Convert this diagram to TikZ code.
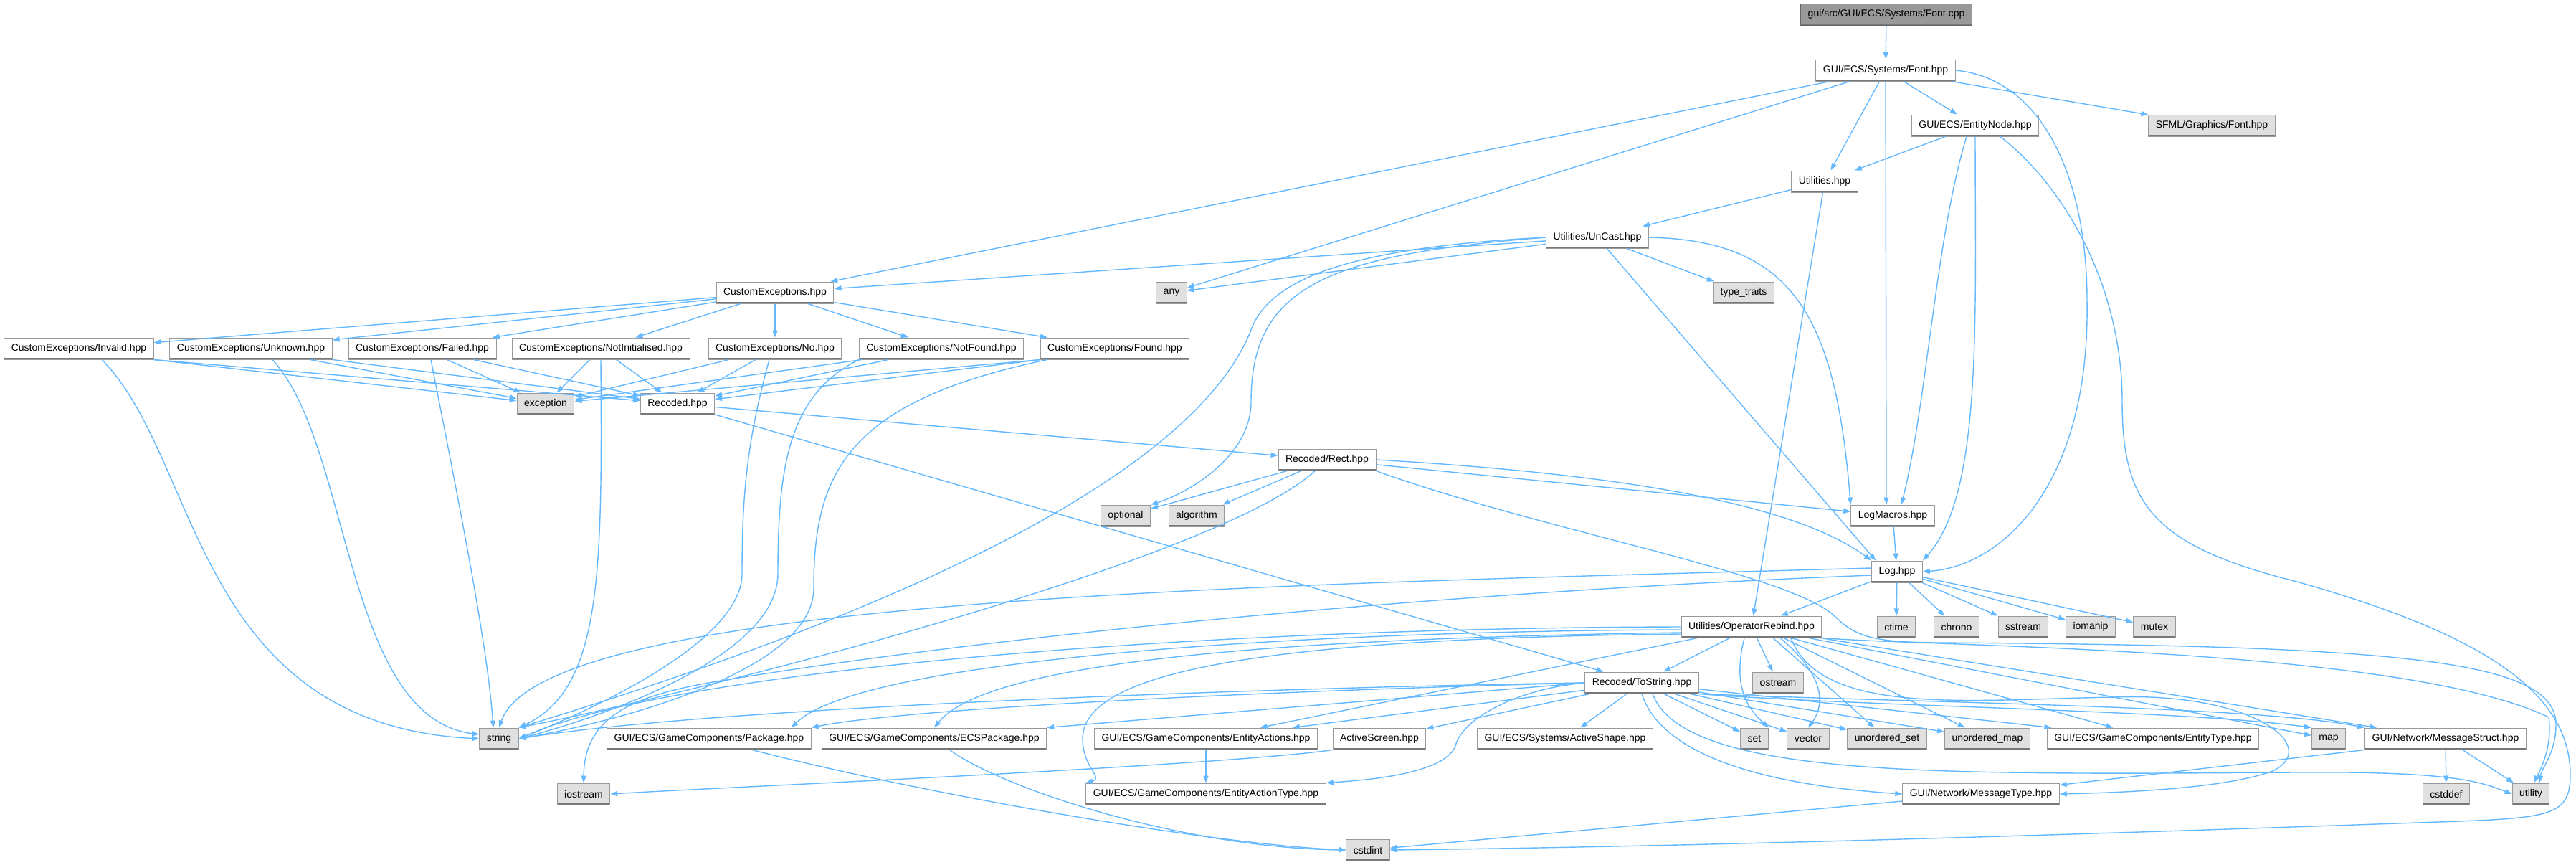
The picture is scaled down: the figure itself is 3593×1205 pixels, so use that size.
\documentclass[tikz,border=0pt]{standalone}
\usepackage{fontspec}
\setmainfont{Liberation Sans}
\usetikzlibrary{arrows.meta,calc}
\definecolor{edgeblue}{RGB}{99,184,255}
\definecolor{sysfill}{RGB}{224,224,224}
\definecolor{boxgrey}{RGB}{153,153,153}
\definecolor{boxdark}{RGB}{120,120,120}
\definecolor{rootfill}{RGB}{153,153,153}
\definecolor{rootline}{RGB}{102,102,102}

\begin{document}
\begin{tikzpicture}[x=0.5pt, y=-0.5pt,
		file/.style={draw=boxgrey, fill=white, line width=0.5pt, minimum height=15pt, inner xsep=5pt, inner ysep=0pt, font=\fontsize{7}{8.4}\selectfont,
			path picture={\draw[boxgrey, line width=1.1pt] (path picture bounding box.north west) -- (path picture bounding box.north east);
				\draw[boxdark, line width=1.6pt] (path picture bounding box.south west) -- (path picture bounding box.south east);}},
		sys/.style={file, fill=sysfill},
		root/.style={file, fill=rootfill, draw=rootline},
		dep/.style={draw=edgeblue, line width=0.7pt, -{Triangle[length=5pt,width=3.6pt]}}]
				\useasboundingbox (0,0) rectangle (3593,1205);
				
				\node[root] (fcpp) at (2631,20) {gui/src/GUI/ECS/Systems/Font.cpp};
				\node[file] (fhpp) at (2630,98) {GUI/ECS/Systems/Font.hpp};
				\node[file] (enode) at (2755,175) {GUI/ECS/EntityNode.hpp};
				\node[sys] (sfml) at (3085,175) {SFML/Graphics/Font.hpp};
				\node[file] (util) at (2545,253) {Utilities.hpp};
				\node[file] (uncast) at (2228,331) {Utilities/UnCast.hpp};
				\node[file] (cex) at (1081,408) {CustomExceptions.hpp};
				\node[sys] (any) at (1634,408) {any};
				\node[sys] (ttraits) at (2432,408) {type\_traits};
				
				\node[file] (invalid) at (110,486) {CustomExceptions/Invalid.hpp};
				\node[file] (unknown) at (350,486) {CustomExceptions/Unknown.hpp};
				\node[file] (failed) at (589,486) {CustomExceptions/Failed.hpp};
				\node[file] (notinit) at (838,486) {CustomExceptions/NotInitialised.hpp};
				\node[file] (no) at (1081,486) {CustomExceptions/No.hpp};
				\node[file] (notfound) at (1313,486) {CustomExceptions/NotFound.hpp};
				\node[file] (found) at (1555,486) {CustomExceptions/Found.hpp};
				\node[sys] (exception) at (761,563) {exception};
				\node[file] (recoded) at (945,563) {Recoded.hpp};
				\node[file] (rect) at (1851,641) {Recoded/Rect.hpp};
				\node[sys] (optional) at (1570,719) {optional};
				\node[sys] (algorithm) at (1669,719) {algorithm};
				\node[file] (logmacros) at (2640,719) {LogMacros.hpp};
				\node[file] (log) at (2646,797) {Log.hpp};
				
				\node[file] (oprebind) at (2443,874) {Utilities/OperatorRebind.hpp};
				\node[sys] (ctime) at (2645,874) {ctime};
				\node[sys] (chrono) at (2729,874) {chrono};
				\node[sys] (sstream) at (2822,874) {sstream};
				\node[sys] (iomanip) at (2916,874) {iomanip};
				\node[sys] (mutex) at (3005,874) {mutex};
				\node[file] (tostring) at (2290,952) {Recoded/ToString.hpp};
				\node[sys] (ostream) at (2480,952) {ostream};
				
				\node[sys] (string) at (696,1030) {string};
				\node[file] (package) at (989,1030) {GUI/ECS/GameComponents/Package.hpp};
				\node[file] (ecspackage) at (1303,1030) {GUI/ECS/GameComponents/ECSPackage.hpp};
				\node[file] (eactions) at (1682,1030) {GUI/ECS/GameComponents/EntityActions.hpp};
				\node[file] (ascreen) at (1924,1030) {ActiveScreen.hpp};
				\node[file] (ashape) at (2183,1030) {GUI/ECS/Systems/ActiveShape.hpp};
				\node[sys] (set) at (2447,1030) {set};
				\node[sys] (vector) at (2522,1030) {vector};
				\node[sys] (uset) at (2632,1030) {unordered\_set};
				\node[sys] (umap) at (2772,1030) {unordered\_map};
				\node[file] (etype) at (3003,1030) {GUI/ECS/GameComponents/EntityType.hpp};
				\node[sys] (map) at (3248,1030) {map};
				\node[file] (mstruct) at (3411,1030) {GUI/Network/MessageStruct.hpp};
				\node[sys] (iostream) at (814,1107) {iostream};
				\node[file] (eatype) at (1682,1107) {GUI/ECS/GameComponents/EntityActionType.hpp};
				\node[file] (mtype) at (2763,1107) {GUI/Network/MessageType.hpp};
				\node[sys] (cstddef) at (3412,1107) {cstddef};
				\node[sys] (utility) at (3530,1107) {utility};
				\node[sys] (cstdint) at (1908,1185) {cstdint};
				
				\draw[dep] (fcpp) -- (fhpp);
				\draw[dep] (fhpp) -- (cex);
				\draw[dep] (fhpp) -- (any);
				\draw[dep] (fhpp) -- (util);
				\draw[dep] (fhpp) -- ($(logmacros.north)+(-9,0)$);
				\draw[dep] (fhpp) -- (enode);
				\draw[dep] (fhpp) -- (sfml);
				\draw[dep] (fhpp.east) .. controls (2850,110) and (2911,250) .. (2911,420) .. controls (2915,680) and (2790,790) .. (log.east);
				
				\draw[dep] (enode) -- (util);
				\draw[dep] ($(enode.south)+(-12,0)$) .. controls (2700,330) and (2688,560) .. ($(logmacros.north)+(12,0)$);
				\draw[dep] (enode.south) .. controls (2755,450) and (2765,690) .. (log.north east);
				\draw[dep] ($(enode.south)+(35,0)$) .. controls (2880,260) and (2960,400) .. (2960,560) .. controls (2960,700) and (3000,760) .. (3200,810) .. controls (3450,880) and (3585,960) .. (3585,1080) .. controls (3585,1135) and (3560,1140) .. (3430,1145) .. controls (3000,1160) and (2400,1180) .. (cstdint.east);
				
				\draw[dep] (util) -- (uncast);
				\draw[dep] (util) -- (oprebind);
				
				\draw[dep] (uncast) -- (cex);
				\draw[dep] (uncast) -- (any);
				\draw[dep] (uncast) -- (ttraits);
				\draw[dep] (uncast) -- ($(log.north west)+(6,0)$);
				\draw[dep] (uncast.east) .. controls (2500,335) and (2560,440) .. (logmacros.north west);
				\draw[dep] (uncast.west) .. controls (1880,345) and (1770,390) .. (1745,460) .. controls (1650,700) and (1100,900) .. (string.north east);
				\draw[dep] (uncast.west) .. controls (1850,355) and (1745,400) .. (1745,560) .. controls (1745,640) and (1650,690) .. (optional.north east);
				
				\draw[dep] (cex) -- (invalid);
				\draw[dep] (cex) -- (unknown);
				\draw[dep] (cex) -- (failed);
				\draw[dep] (cex) -- (notinit);
				\draw[dep] (cex) -- (no);
				\draw[dep] (cex) -- (notfound);
				\draw[dep] (cex) -- (found);
				
				\draw[dep] (invalid.south east) -- (exception);
				\draw[dep] (invalid.south east) -- (recoded);
				\draw[dep] ($(invalid.south)+(32,0)$) .. controls (280,640) and (270,1010) .. (string.west);
				\draw[dep] (unknown) -- (exception);
				\draw[dep] (unknown.south east) -- (recoded);
				\draw[dep] ($(unknown.south)+(30,0)$) .. controls (490,620) and (480,1000) .. ($(string.west)+(0,-6)$);
				\draw[dep] (failed) -- (exception);
				\draw[dep] (failed) -- (recoded);
				\draw[dep] ($(failed.south)+(12,0)$) .. controls (640,700) and (680,900) .. ($(string.north)+(-8,0)$);
				\draw[dep] (notinit) -- (exception);
				\draw[dep] (notinit) -- (recoded);
				\draw[dep] (notinit.south) .. controls (840,800) and (840,960) .. (string.north east);
				\draw[dep] (no) -- (exception);
				\draw[dep] (no) -- (recoded);
				\draw[dep] ($(no.south)+(-8,0)$) .. controls (1040,620) and (1035,700) .. (1035,800) .. controls (1035,900) and (800,1000) .. (string.east);
				\draw[dep] (notfound) -- (exception);
				\draw[dep] (notfound) -- (recoded);
				\draw[dep] (notfound.south west) .. controls (1100,550) and (1085,650) .. (1085,800) .. controls (1085,920) and (820,1005) .. (string.east);
				\draw[dep] (found.south west) -- (exception);
				\draw[dep] (found.south west) -- (recoded);
				\draw[dep] ($(found.south west)+(10,0)$) .. controls (1180,560) and (1135,660) .. (1135,820) .. controls (1135,940) and (840,1010) .. (string.east);
				
				\draw[dep] (recoded) -- (rect);
				\draw[dep] (recoded) -- (tostring);
				
				\draw[dep] (rect) -- (optional);
				\draw[dep] (rect) -- (algorithm);
				\draw[dep] (rect) -- (logmacros);
				\draw[dep] (rect.east) .. controls (2250,660) and (2500,700) .. (log.north west);
				\draw[dep] (rect) .. controls (1700,780) and (1000,960) .. (string.north east);
				\draw[dep] (rect.south east) .. controls (2150,740) and (2500,800) .. (2560,860) .. controls (2590,890) and (2620,895) .. (2700,896) .. controls (3350,900) and (3565,920) .. (3565,1010) .. controls (3565,1050) and (3545,1070) .. ($(utility.north)+(12,0)$);
				
				\draw[dep] (logmacros) -- (log);
				
				\draw[dep] (log) -- (oprebind);
				\draw[dep] (log) -- (ctime);
				\draw[dep] (log) -- (chrono);
				\draw[dep] (log) -- (sstream);
				\draw[dep] (log) -- (iomanip);
				\draw[dep] (log) -- (mutex);
				\draw[dep] ($(log.west)+(0,-5)$) .. controls (1800,815) and (760,830) .. (string.north);
				\draw[dep] ($(log.west)+(0,5)$) .. controls (1900,830) and (1300,900) .. (1000,950) .. controls (880,970) and (815,1000) .. (iostream.north);
				
				\draw[dep] (oprebind) -- (tostring);
				\draw[dep] (oprebind) -- (ostream);
				\draw[dep] (oprebind.west) .. controls (1700,875) and (950,930) .. (string.east);
				\draw[dep] ($(oprebind.west)+(0,4)$) .. controls (1800,880) and (1200,920) .. ($(package.north east)+(-28,0)$);
				\draw[dep] ($(oprebind.west)+(0,8)$) .. controls (1800,890) and (1380,920) .. (ecspackage.north);
				\draw[dep] (oprebind) -- (eactions);
				\draw[dep] ($(oprebind.west)+(0,10)$) .. controls (1800,890) and (1510,930) .. (1510,1030) .. controls (1510,1070) and (1540,1085) .. (eatype.north west);
				\draw[dep] ($(oprebind.south)+(-10,0)$) .. controls (2415,960) and (2440,990) .. (set.north east);
				\draw[dep] ($(oprebind.south)+(40,0)$) .. controls (2555,950) and (2540,990) .. (vector.north);
				\draw[dep] ($(oprebind.south)+(30,0)$) -- (uset);
				\draw[dep] ($(oprebind.south)+(45,0)$) -- (umap);
				\draw[dep] (oprebind) -- (etype);
				\draw[dep] (oprebind) -- (map);
				\draw[dep] (oprebind) -- (mstruct);
				\draw[dep] ($(oprebind.south)+(55,0)$) .. controls (2540,1000) and (2750,975) .. (2950,972) .. controls (3140,965) and (3240,1040) .. (3170,1075) .. controls (3100,1100) and (2960,1105) .. (mtype.east);
				\draw[dep] (oprebind.south east) .. controls (2700,902) and (3350,902) .. (3555,1000) .. controls (3560,1040) and (3545,1070) .. ($(utility.north)+(4,0)$);
				
				\draw[dep] (tostring.west) .. controls (1800,958) and (1000,985) .. (string.east);
				\draw[dep] (tostring.west) .. controls (1700,965) and (1250,990) .. (package.north east);
				\draw[dep] (tostring.west) -- (ecspackage.north east);
				\draw[dep] (tostring) -- (eactions);
				\draw[dep] (tostring) -- (ascreen);
				\draw[dep] (tostring) -- (ashape);
				\draw[dep] (tostring.west) .. controls (2120,960) and (2040,1000) .. (2030,1040) .. controls (2015,1080) and (1900,1088) .. (eatype.north east);
				\draw[dep] (tostring) -- (set);
				\draw[dep] (tostring) -- (vector);
				\draw[dep] (tostring) -- (uset);
				\draw[dep] (tostring) -- (umap);
				\draw[dep] (tostring) -- (etype);
				\draw[dep] (tostring.south east) .. controls (2600,985) and (3050,990) .. (map.north west);
				\draw[dep] (tostring.south east) .. controls (2700,980) and (3150,985) .. (mstruct.north west);
				\draw[dep] (tostring.south) .. controls (2310,1030) and (2400,1090) .. (mtype.west);
				\draw[dep] ($(tostring.south)+(15,0)$) .. controls (2350,1085) and (2700,1080) .. (3200,1077) .. controls (3420,1075) and (3460,1090) .. (utility.west);
				
				\draw[dep] (mstruct.south west) -- (mtype);
				\draw[dep] (mstruct) -- (cstddef);
				\draw[dep] (mstruct) -- (utility);
				\draw[dep] (mtype) -- (cstdint);
				\draw[dep] (package) .. controls (1300,1110) and (1700,1178) .. (cstdint.west);
				\draw[dep] (ecspackage) .. controls (1400,1100) and (1650,1182) .. (cstdint.west);
				\draw[dep] (eactions) -- (eatype);
				\draw[dep] (ascreen.south west) .. controls (1700,1068) and (1000,1098) .. (iostream.east);
			\end{tikzpicture}
\end{document}
